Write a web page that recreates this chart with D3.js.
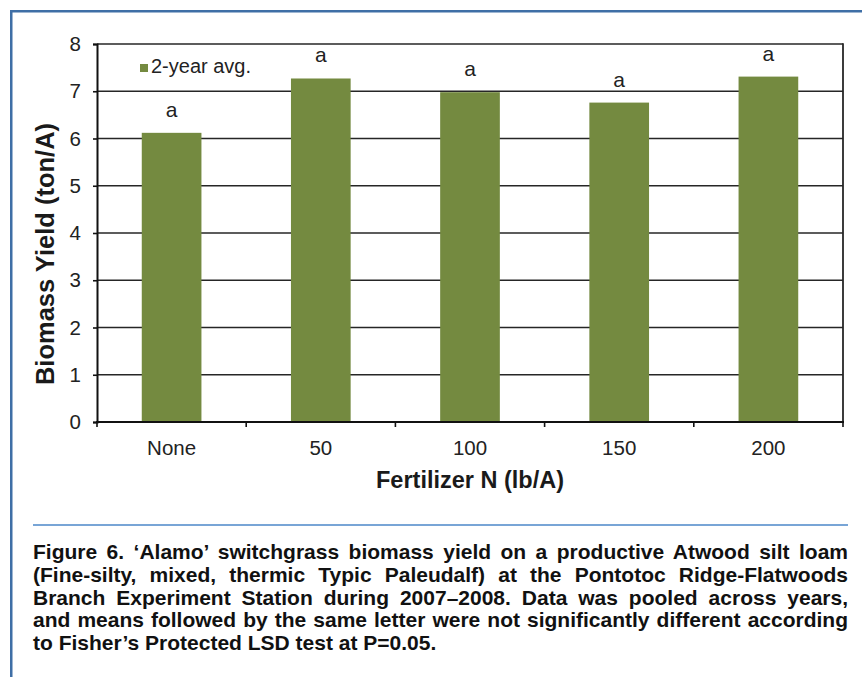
<!DOCTYPE html>
<html>
<head>
<meta charset="utf-8">
<script src="https://cdn.jsdelivr.net/npm/d3@7"></script>
<style>
  html, body { margin: 0; padding: 0; background: #fff; }
  svg { display: block; font-family: "Liberation Sans", Arial, Helvetica, sans-serif; }
</style>
</head>
<body>
<svg id="chart" width="862" height="677"></svg>
<script>
// Biomass yield by nitrogen rate (2-year average)
const categories = ["None", "50", "100", "150", "200"];
const yieldValues = [6.12, 7.27, 6.98, 6.76, 7.31];
const letters = ["a", "a", "a", "a", "a"];
const yTicks = [0, 1, 2, 3, 4, 5, 6, 7, 8];
const legendLabel = "2-year avg.";
const yTitle = "Biomass Yield (ton/A)";
const xTitle = "Fertilizer N (lb/A)";
const captionLines = [
  "Figure 6. \u2018Alamo\u2019 switchgrass biomass yield on a productive Atwood silt loam",
  "(Fine-silty, mixed, thermic Typic Paleudalf) at the Pontotoc Ridge-Flatwoods",
  "Branch Experiment Station during 2007\u20132008. Data was pooled across years,",
  "and means followed by the same letter were not significantly different according",
  "to Fisher\u2019s Protected LSD test at P=0.05."
];

const svg = d3.select("#chart");
const barColor = "#748a40";
const frameBlue = "#3f6fa6";
const fontStack = "Liberation Sans, Arial, sans-serif";

// Page frame (left and top rules)
svg.append("rect").attr("x", 10).attr("y", 10).attr("width", 2.5).attr("height", 667).attr("fill", frameBlue);
svg.append("rect").attr("x", 10).attr("y", 10).attr("width", 852).attr("height", 2.5).attr("fill", frameBlue);

const plot = { left: 97, right: 843, top: 44, bottom: 422 };

const x = d3.scaleBand().domain(categories).range([plot.left, plot.right]).paddingInner(0.6).paddingOuter(0.3);
const xEdges = d3.scaleBand().domain(categories).range([plot.left, plot.right]).padding(0);
const y = d3.scaleLinear().domain([0, 8]).range([plot.bottom, plot.top]);

// Gridlines
svg.append("g")
  .selectAll("line")
  .data(yTicks.filter(t => t > 0))
  .join("line")
  .attr("x1", plot.left).attr("x2", plot.right)
  .attr("y1", d => y(d)).attr("y2", d => y(d))
  .attr("stroke", "#262626").attr("stroke-width", 1.6);

// Right border of plot area
svg.append("line")
  .attr("x1", plot.right).attr("x2", plot.right)
  .attr("y1", plot.top - 0.8).attr("y2", plot.bottom)
  .attr("stroke", "#262626").attr("stroke-width", 1.8);

// Bars
svg.append("g")
  .selectAll("rect")
  .data(categories)
  .join("rect")
  .attr("x", d => x(d))
  .attr("width", x.bandwidth())
  .attr("y", (d, i) => y(yieldValues[i]))
  .attr("height", (d, i) => y(0) - y(yieldValues[i]))
  .attr("fill", barColor);

// Significance letters
svg.append("g")
  .selectAll("text")
  .data(categories)
  .join("text")
  .attr("x", d => x(d) + x.bandwidth() / 2)
  .attr("y", (d, i) => y(yieldValues[i]) - 16)
  .attr("text-anchor", "middle")
  .attr("font-size", 21)
  .attr("fill", "#222")
  .text((d, i) => letters[i]);

// Y axis
const yAxis = d3.axisLeft(y).tickValues(yTicks).tickSize(4).tickPadding(12);
const gy = svg.append("g").attr("transform", `translate(${plot.left},0)`).call(yAxis);
gy.select(".domain").attr("stroke", "#111").attr("stroke-width", 2);
gy.selectAll(".tick line").attr("stroke", "#111").attr("stroke-width", 1.6);
gy.selectAll(".tick text").attr("font-size", 20.5).attr("fill", "#222").attr("font-family", fontStack);

// X axis: ticks sit on the category boundaries
const xAxis = d3.axisBottom(x).tickSize(0).tickPadding(18);
const gx = svg.append("g").attr("transform", `translate(0,${plot.bottom})`).call(xAxis);
gx.select(".domain").remove();
gx.selectAll(".tick text").attr("font-size", 20.5).attr("fill", "#222").attr("font-family", fontStack);
const boundaries = categories.map(c => xEdges(c)).concat([plot.right]);
svg.append("g").selectAll("line").data(boundaries).join("line")
  .attr("x1", d => d).attr("x2", d => d)
  .attr("y1", plot.bottom).attr("y2", plot.bottom + 5)
  .attr("stroke", "#111").attr("stroke-width", 1.6);
svg.append("line")
  .attr("x1", plot.left - 1).attr("x2", plot.right + 1)
  .attr("y1", plot.bottom).attr("y2", plot.bottom)
  .attr("stroke", "#111").attr("stroke-width", 2);

// Axis titles
svg.append("text")
  .attr("transform", "translate(54,254) rotate(-90)")
  .attr("text-anchor", "middle")
  .attr("font-size", 25.5).attr("font-weight", "bold").attr("fill", "#1a1a1a")
  .text(yTitle);
svg.append("text")
  .attr("x", (plot.left + plot.right) / 2)
  .attr("y", 488)
  .attr("text-anchor", "middle")
  .attr("font-size", 23.5).attr("font-weight", "bold").attr("fill", "#1a1a1a")
  .text(xTitle);

// Legend
svg.append("rect").attr("x", 140).attr("y", 64).attr("width", 8).attr("height", 8).attr("fill", barColor);
svg.append("text").attr("x", 151).attr("y", 73).attr("font-size", 20).attr("fill", "#222").text(legendLabel);

// Caption rule
svg.append("line").attr("x1", 33).attr("x2", 848).attr("y1", 525).attr("y2", 525)
  .attr("stroke", "#4b87c9").attr("stroke-width", 1.6);

// Caption, justified between the margins (last line left-aligned)
const capLeft = 33, capRight = 848, capTop = 559, capStep = 22.8;
const cap = svg.append("g").attr("font-size", 21).attr("font-weight", "bold").attr("fill", "#111");
captionLines.forEach((line, i) => {
  const t = cap.append("text").attr("x", capLeft).attr("y", capTop + i * capStep).text(line);
  if (i < captionLines.length - 1) {
    const natural = t.node().getComputedTextLength();
    const gaps = line.split(" ").length - 1;
    const extra = (capRight - capLeft - natural) / gaps;
    t.attr("word-spacing", extra);
  }
});
</script>
</body>
</html>
